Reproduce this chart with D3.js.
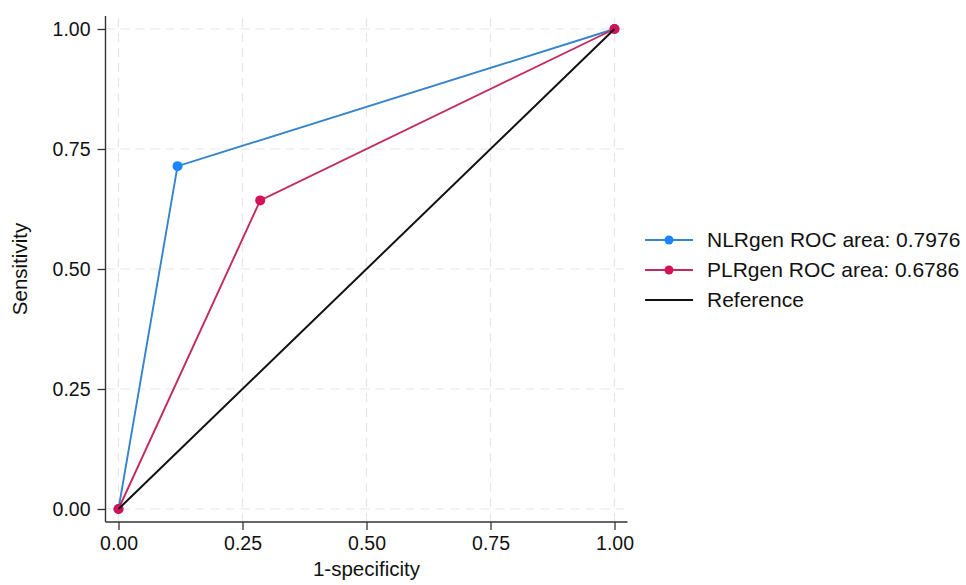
<!DOCTYPE html>
<html>
<head>
<meta charset="utf-8">
<script src="https://cdn.jsdelivr.net/npm/d3@7"></script>
<style>
    html, body { margin: 0; padding: 0; background: #fff; }
    svg { display: block; font-family: Helvetica, Arial, "Liberation Sans", sans-serif; }
</style>
</head>
<body>
<svg id="chart" width="966" height="585"></svg>
<script>
// ROC points
const tickValues = [0, 0.25, 0.5, 0.75, 1];
const tickLabels = ["0.00", "0.25", "0.50", "0.75", "1.00"];

const nlrFpr  = [0, 0.1190, 1];
const nlrSens = [0, 0.7143, 1];
const plrFpr  = [0, 0.2857, 1];
const plrSens = [0, 0.6429, 1];
const refFpr  = [0, 1];
const refSens = [0, 1];

const seriesNames = ["NLRgen ROC area: 0.7976", "PLRgen ROC area: 0.6786", "Reference"];
const seriesColors = ["#1a85ff", "#d41159", "#000000"];
const lineColors = ["#3584cc", "#c42a5e", "#111111"];

const svg = d3.select("#chart");
const x = d3.scaleLinear().domain([0, 1]).range([118.5, 614.5]);
const y = d3.scaleLinear().domain([0, 1]).range([509, 29]);
const pad = 13;

// grid
const grid = svg.append("g").attr("stroke", "#e6e6e6").attr("stroke-width", 1.2)
    .attr("stroke-dasharray", "9,6");
grid.selectAll(".gx").data(tickValues).enter().append("line")
    .attr("x1", d => x(d)).attr("x2", d => x(d))
    .attr("y1", y(0) + pad).attr("y2", y(1) - pad);
grid.selectAll(".gy").data(tickValues).enter().append("line")
    .attr("y1", d => y(d)).attr("y2", d => y(d))
    .attr("x1", x(0) - pad).attr("x2", x(1) + pad);

// axes
const xAxis = d3.axisBottom(x).tickValues(tickValues)
    .tickFormat((d, i) => tickLabels[i]).tickSize(8).tickPadding(6).tickSizeOuter(0);
const yAxis = d3.axisLeft(y).tickValues(tickValues)
    .tickFormat((d, i) => tickLabels[i]).tickSize(8).tickPadding(7).tickSizeOuter(0);

const gx = svg.append("g").attr("transform", `translate(0,${y(0) + pad})`).call(xAxis);
const gy = svg.append("g").attr("transform", `translate(${x(0) - pad},0)`).call(yAxis);
[gx, gy].forEach(g => {
    g.select(".domain").remove();
    g.selectAll(".tick line").attr("stroke", "#333").attr("stroke-width", 1.3);
    g.selectAll(".tick text").attr("fill", "#111").attr("font-size", 19.5)
        .attr("font-family", "Helvetica, Arial, 'Liberation Sans', sans-serif");
});

svg.append("line")
    .attr("x1", x(0) - pad).attr("x2", x(0) - pad)
    .attr("y1", y(1) - pad).attr("y2", y(0) + pad)
    .attr("stroke", "#333").attr("stroke-width", 1.4);
svg.append("line")
    .attr("x1", x(0) - pad).attr("x2", x(1) + pad)
    .attr("y1", y(0) + pad).attr("y2", y(0) + pad)
    .attr("stroke", "#333").attr("stroke-width", 1.4);

// axis titles
svg.append("text")
    .attr("x", (x(0) + x(1)) / 2).attr("y", 576)
    .attr("text-anchor", "middle").attr("font-size", 20.5).attr("fill", "#111")
    .text("1-specificity");
svg.append("text")
    .attr("transform", `translate(27,${(y(0) + y(1)) / 2}) rotate(-90)`)
    .attr("text-anchor", "middle").attr("font-size", 20.5).attr("fill", "#111")
    .text("Sensitivity");

// curves
const line = d3.line().x(d => x(d[0])).y(d => y(d[1]));
const series = [
    d3.zip(nlrFpr, nlrSens),
    d3.zip(plrFpr, plrSens),
    d3.zip(refFpr, refSens)
];

series.forEach((pts, i) => {
    svg.append("path").datum(pts)
        .attr("d", line).attr("fill", "none")
        .attr("stroke", lineColors[i]).attr("stroke-width", i === 2 ? 2 : 1.9);
    if (i < 2) {
        svg.selectAll(null).data(pts).enter().append("circle")
            .attr("cx", d => x(d[0])).attr("cy", d => y(d[1])).attr("r", 5)
            .attr("fill", seriesColors[i]);
    }
});

// legend
const legend = svg.append("g").attr("transform", "translate(645,240)");
const rows = legend.selectAll("g").data(seriesNames).enter().append("g")
    .attr("transform", (d, i) => `translate(0,${i * 30})`);
rows.append("line").attr("x1", 0).attr("x2", 48).attr("y1", 0).attr("y2", 0)
    .attr("stroke", (d, i) => lineColors[i]).attr("stroke-width", 2);
rows.filter((d, i) => i < 2).append("circle")
    .attr("cx", 24).attr("cy", 0).attr("r", 4.5)
    .attr("fill", (d, i) => seriesColors[i]);
rows.append("text").attr("x", 62).attr("y", 0).attr("dy", "0.35em")
    .attr("font-size", 21).attr("fill", "#111").text(d => d);
</script>
</body>
</html>
